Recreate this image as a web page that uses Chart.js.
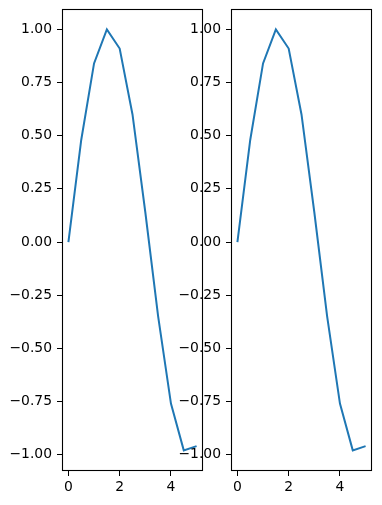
<!DOCTYPE html>
<html>
<head>
<meta charset="utf-8">
<script src="https://cdn.jsdelivr.net/npm/chart.js@4"></script>
<style>
  html, body { margin: 0; padding: 0; background: #fff; }
  .plot { position: absolute; top: 0; }
</style>
</head>
<body>
<div class="plot" style="left:0px"><canvas id="left" width="205" height="505"></canvas></div>
<div class="plot" style="left:169px"><canvas id="right" width="205" height="505"></canvas></div>
<script>
// sampled curve, same in both panels
const xValues = [0, 0.5, 1, 1.5, 2, 2.5, 3, 3.5, 4, 4.5, 5];
const yValues = [0, 0.48, 0.84, 1.0, 0.91, 0.6, 0.14, -0.35, -0.76, -0.98, -0.96];
const xTicks = [0, 2, 4];
const yTicks = [-1, -0.75, -0.5, -0.25, 0, 0.25, 0.5, 0.75, 1];

const tickFont = { family: 'DejaVu Sans', size: 13.9 };

const framePlugin = {
    id: 'frame',
    afterDraw(chart) {
        const a = chart.chartArea;
        const ctx = chart.ctx;
        ctx.save();
        ctx.strokeStyle = '#000';
        ctx.lineWidth = 1.1;
        ctx.strokeRect(a.left + 0.5, a.top + 0.5, a.right - a.left - 1, a.bottom - a.top - 1);
        ctx.restore();
    }
};

function fmt(v, digits) {
    return v.toFixed(digits).replace('-', '\u2212');
}

function drawPanel(id) {
    const ctx = document.getElementById(id).getContext('2d');
    new Chart(ctx, {
        type: 'line',
        data: {
            datasets: [{
                data: xValues.map((x, i) => ({ x: x, y: yValues[i] })),
                borderColor: '#1f77b4',
                borderWidth: 2,
                pointRadius: 0,
                tension: 0,
                fill: false
            }]
        },
        options: {
            responsive: false,
            animation: false,
            layout: { padding: { top: 9, right: 2, left: 0, bottom: 0 } },
            plugins: { legend: { display: false }, tooltip: { enabled: false } },
            scales: {
                x: {
                    type: 'linear',
                    min: -0.25,
                    max: 5.25,
                    afterBuildTicks: s => { s.ticks = xTicks.map(v => ({ value: v })); },
                    afterFit: s => { s.height = 34; s.paddingLeft = 0; s.paddingRight = 0; },
                    border: { display: false },
                    grid: { drawOnChartArea: false, drawTicks: true, tickLength: 5, color: '#000' },
                    ticks: { color: '#000', font: tickFont, padding: 3, maxRotation: 0,
                             callback: v => fmt(v, 0) }
                },
                y: {
                    type: 'linear',
                    min: -1.077,
                    max: 1.096,
                    afterBuildTicks: s => { s.ticks = yTicks.map(v => ({ value: v })); },
                    afterFit: s => { s.width = 62; s.paddingTop = 0; s.paddingBottom = 0; },
                    border: { display: false },
                    grid: { drawOnChartArea: false, drawTicks: true, tickLength: 5, color: '#000' },
                    ticks: { color: '#000', font: tickFont, padding: 5,
                             callback: v => fmt(v, 2) }
                }
            }
        },
        plugins: [framePlugin]
    });
}

drawPanel('left');
drawPanel('right');
</script>
</body>
</html>
